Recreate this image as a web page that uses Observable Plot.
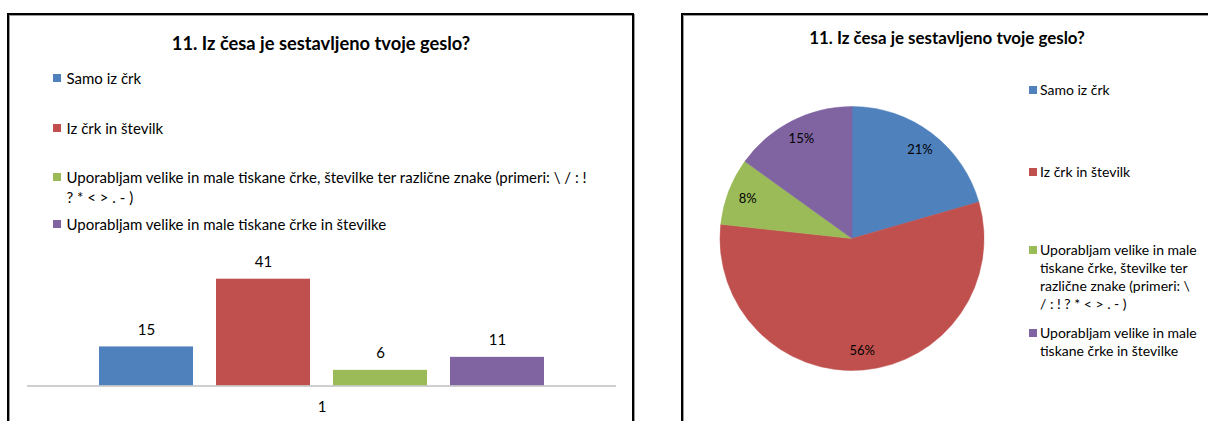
<!DOCTYPE html>
<html><head><meta charset="utf-8">
<script src="https://cdn.jsdelivr.net/npm/d3@7"></script>
<script src="https://cdn.jsdelivr.net/npm/@observablehq/plot@0.6"></script>
<style>
html,body{margin:0;padding:0;background:#fff;overflow:hidden}
#page{position:relative;width:1208px;height:421px;overflow:hidden;font-family:Lato,"Liberation Sans",sans-serif;color:#000}
.panel{position:absolute;box-sizing:border-box;border:2px solid #000;box-shadow:1px 1px 0 #9a9a9a, inset 1px 1px 0 #9a9a9a;background:#fff}
.abs{position:absolute;white-space:nowrap}
.title{font-weight:bold;text-align:center}
.sw{position:absolute;width:8px;height:8px}
svg{position:absolute;left:0;top:0}
</style></head><body><div id="page"></div>
<script>
// ---- data ----
const title = "11. Iz česa je sestavljeno tvoje geslo?";
const categories = [
  "Samo iz črk",
  "Iz črk in številk",
  "Uporabljam velike in male tiskane črke, številke ter različne znake (primeri: \\ / : ! ? * < > . - )",
  "Uporabljam velike in male tiskane črke in številke"
];
const values = [15, 41, 6, 11];
const groupLabels = ["1"];
const colors = ["#4F81BD", "#C0504D", "#9BBB59", "#8064A2"];
const legendLinesLeft = [
  ["Samo iz črk"],
  ["Iz črk in številk"],
  ["Uporabljam velike in male tiskane črke, številke ter različne znake (primeri: \\ / : !", "? * < > . - )"],
  ["Uporabljam velike in male tiskane črke in številke"]
];
const legendLinesRight = [
  ["Samo iz črk"],
  ["Iz črk in številk"],
  ["Uporabljam velike in male", "tiskane črke, številke ter", "različne znake (primeri: \\", "/ : ! ? * < > . - )"],
  ["Uporabljam velike in male", "tiskane črke in številke"]
];

// ---- layout ----
const FONT = "Lato, 'Liberation Sans', sans-serif";
const page = document.getElementById("page");
function panel(left, top, width, height) {
  const d = document.createElement("div");
  d.className = "panel";
  Object.assign(d.style, {left: left + "px", top: top + "px", width: width + "px", height: height + "px"});
  page.appendChild(d);
}
function text(str, left, top, size, lineH, cls, extra) {
  const d = document.createElement("div");
  d.className = "abs " + (cls || "");
  d.textContent = str;
  Object.assign(d.style, {left: left + "px", top: top + "px", fontSize: size + "px", lineHeight: lineH + "px"}, extra || {});
  page.appendChild(d);
  return d;
}
function legend(lines, tops, swLeft, textLeft, size, lineH) {
  lines.forEach((ls, i) => {
    const sw = document.createElement("div");
    sw.className = "sw";
    Object.assign(sw.style, {left: swLeft + "px", top: (tops[i] + lineH / 2 - 4) + "px", background: colors[i]});
    page.appendChild(sw);
    ls.forEach((l, j) => text(l, textLeft, tops[i] + j * lineH, size, lineH));
  });
}

panel(7, 13, 627, 460);
panel(681, 13, 600, 460);

// ---- bar chart ----
const barData = categories.map((c, i) => ({group: groupLabels[0], series: c, value: values[i]}));
const bar = Plot.plot({
  width: 640, height: 421,
  marginLeft: 27, marginRight: 24, marginTop: 278.7, marginBottom: 35.5,
  style: {fontFamily: FONT, fontSize: "15px", background: "transparent", overflow: "visible", color: "#000"},
  fx: {domain: groupLabels, padding: 0, label: null},
  x: {domain: categories, paddingInner: 0.2, paddingOuter: 0.602, axis: null},
  y: {domain: [0, 41], axis: null},
  color: {domain: categories, range: colors},
  marks: [
    Plot.axisFx({anchor: "bottom", tickSize: 0, tickPadding: 15, fontSize: 15, label: null}),
    Plot.barY(barData, {fx: "group", x: "series", y: "value", fill: "series"}),
    Plot.ruleY([0], {stroke: "#bfbfbf", strokeWidth: 1.5}),
    Plot.text(barData, {fx: "group", x: "series", y: "value", text: d => String(d.value), dy: -17, fontSize: 15, fill: "#000"})
  ]
});
page.appendChild(bar);

// ---- pie chart ----
const total = d3.sum(values);
const arcs = d3.pie().sort(null).value(d => d)(values);
const pieData = categories.map((c, i) => {
  const m = (arcs[i].startAngle + arcs[i].endAngle) / 2;
  return {series: c, value: values[i], start: arcs[i].startAngle, end: arcs[i].endAngle,
          label: d3.format(".0%")(values[i] / total), lx: 0.85 * Math.sin(m), ly: 0.85 * Math.cos(m)};
});
const colorOf = d3.scaleOrdinal(categories, colors);
const pie = Plot.plot({
  width: 1208, height: 421, margin: 0,
  style: {fontFamily: FONT, background: "transparent", overflow: "visible"},
  x: {domain: [-1, 1], range: [720, 984], axis: null},
  y: {domain: [-1, 1], range: [370.5, 106.5], axis: null},
  marks: [
    (index, scales) => {
      const cx = scales.x(0), cy = scales.y(0), r = scales.x(1) - scales.x(0);
      const g = d3.create("svg:g").attr("transform", `translate(${cx},${cy})`);
      const arc = d3.arc().innerRadius(0).outerRadius(r);
      g.selectAll("path").data(pieData).join("path")
        .attr("d", d => arc({startAngle: d.start, endAngle: d.end}))
        .attr("fill", d => colorOf(d.series))
        .attr("stroke", d => colorOf(d.series))
        .attr("stroke-width", 0.5);
      return g.node();
    },
    Plot.text(pieData, {x: "lx", y: "ly", text: "label", fontSize: 13, fill: "#000"})
  ]
});
page.appendChild(pie);

// ---- titles and legends ----
text(title, 321 - 300, 31, 18.3, 24, "title", {width: "600px"});
text(title, 947 - 300, 27, 16.9, 22, "title", {width: "600px"});
legend(legendLinesLeft, [67.5, 117.5, 167, 214], 53, 66.5, 15, 20);
legend(legendLinesRight, [81, 163, 241, 324], 1029, 1040, 14, 18);
</script></body></html>
